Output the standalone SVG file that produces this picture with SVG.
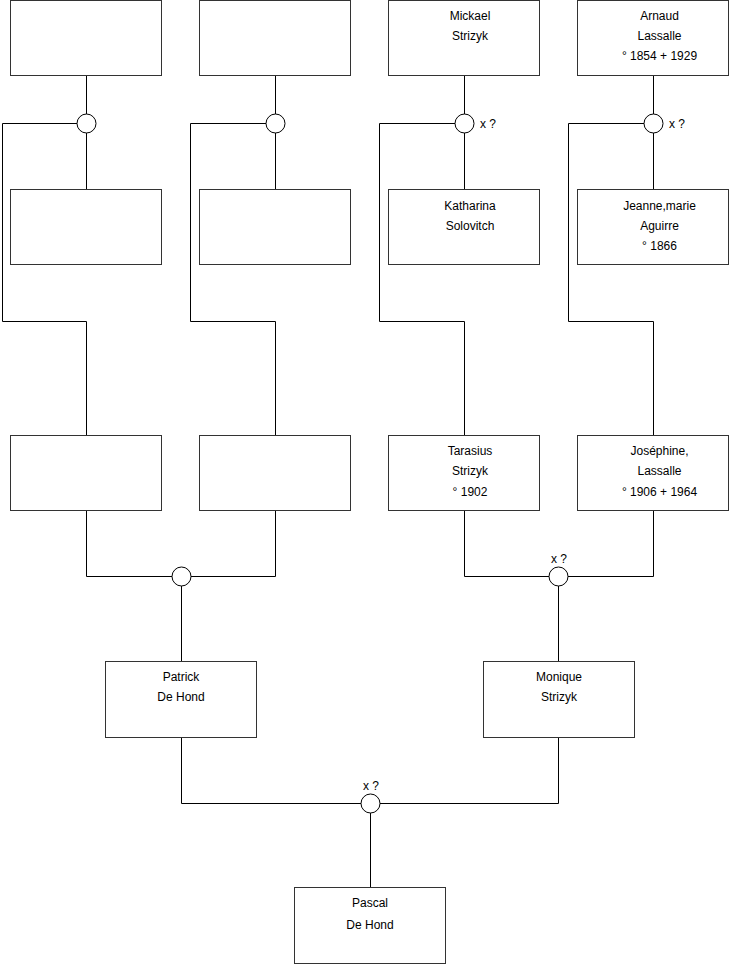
<svg xmlns="http://www.w3.org/2000/svg" width="740" height="975" viewBox="0 0 740 975">
<style>
.box{fill:#fff;stroke:#333;stroke-width:1}
.ln{fill:none;stroke:#000;stroke-width:1}
.ring{fill:#fff;stroke:#000;stroke-width:1}
text{font-family:"Liberation Sans",Arial,sans-serif;font-size:12px;fill:#000}
.c{text-anchor:middle}
</style>
<rect width="740" height="975" fill="#fff"/>
<g id="connectors">
<path class="ln" d="M86.5 75.5V190.5M86.5 123.5H2.5V321.5H86.5V435.5"/>
<path class="ln" d="M275.5 75.5V190.5M275.5 123.5H190.5V321.5H275.5V435.5"/>
<path class="ln" d="M464.5 75.5V190.5M464.5 123.5H379.5V321.5H464.5V435.5"/>
<path class="ln" d="M653.5 75.5V190.5M653.5 123.5H568.5V321.5H653.5V435.5"/>
<path class="ln" d="M86.5 510.5V576.5H275.5V510.5M181.5 576.5V661.5"/>
<path class="ln" d="M464.5 510.5V576.5H653.5V510.5M558.5 576.5V661.5"/>
<path class="ln" d="M181.5 737.5V803.5H558.5V737.5M370.5 803.5V887.5"/>
<circle class="ring" cx="86.5" cy="123.5" r="9.5"/>
<circle class="ring" cx="275.5" cy="123.5" r="9.5"/>
<circle class="ring" cx="464.5" cy="123.5" r="9.5"/>
<circle class="ring" cx="653.5" cy="123.5" r="9.5"/>
<circle class="ring" cx="181.5" cy="576.5" r="9.5"/>
<circle class="ring" cx="558.5" cy="576.5" r="9.5"/>
<circle class="ring" cx="370.5" cy="803.5" r="9.5"/>
<text x="480" y="128">x ?</text>
<text x="669" y="128">x ?</text>
<text class="c" x="559" y="563">x ?</text>
<text class="c" x="371" y="790">x ?</text>
</g>
<g id="g1a"><rect class="box" x="10.5" y="0.5" width="151" height="75"/></g>
<g id="g1b"><rect class="box" x="199.5" y="0.5" width="151" height="75"/></g>
<g id="mickael"><rect class="box" x="388.5" y="0.5" width="151" height="75"/>
<text class="c" x="470" y="20">Mickael</text><text class="c" x="470" y="40">Strizyk</text></g>
<g id="arnaud"><rect class="box" x="577.5" y="0.5" width="151" height="75"/>
<text class="c" x="659.5" y="20">Arnaud</text><text class="c" x="659.5" y="40">Lassalle</text><text class="c" x="659.5" y="60">° 1854 + 1929</text></g>
<g id="g2a"><rect class="box" x="10.5" y="189.5" width="151" height="75"/></g>
<g id="g2b"><rect class="box" x="199.5" y="189.5" width="151" height="75"/></g>
<g id="katharina"><rect class="box" x="388.5" y="189.5" width="151" height="75"/>
<text class="c" x="470" y="210">Katharina</text><text class="c" x="470" y="230">Solovitch</text></g>
<g id="jeanne"><rect class="box" x="577.5" y="189.5" width="151" height="75"/>
<text class="c" x="659.5" y="210">Jeanne,marie</text><text class="c" x="659.5" y="230">Aguirre</text><text class="c" x="659.5" y="250">° 1866</text></g>
<g id="g3a"><rect class="box" x="10.5" y="435.5" width="151" height="75"/></g>
<g id="g3b"><rect class="box" x="199.5" y="435.5" width="151" height="75"/></g>
<g id="tarasius"><rect class="box" x="388.5" y="435.5" width="151" height="75"/>
<text class="c" x="470" y="455">Tarasius</text><text class="c" x="470" y="475">Strizyk</text><text class="c" x="470" y="496">° 1902</text></g>
<g id="josephine"><rect class="box" x="577.5" y="435.5" width="151" height="75"/>
<text class="c" x="659.5" y="455">Joséphine,</text><text class="c" x="659.5" y="475">Lassalle</text><text class="c" x="659.5" y="496">° 1906 + 1964</text></g>
<g id="patrick"><rect class="box" x="105.5" y="661.5" width="151" height="76"/>
<text class="c" x="181" y="681">Patrick</text><text class="c" x="181" y="701">De Hond</text></g>
<g id="monique"><rect class="box" x="483.5" y="661.5" width="151" height="76"/>
<text class="c" x="559" y="681">Monique</text><text class="c" x="559" y="701">Strizyk</text></g>
<g id="pascal"><rect class="box" x="294.5" y="887.5" width="151" height="76"/>
<text class="c" x="370" y="907">Pascal</text><text class="c" x="370" y="929">De Hond</text></g>
</svg>
